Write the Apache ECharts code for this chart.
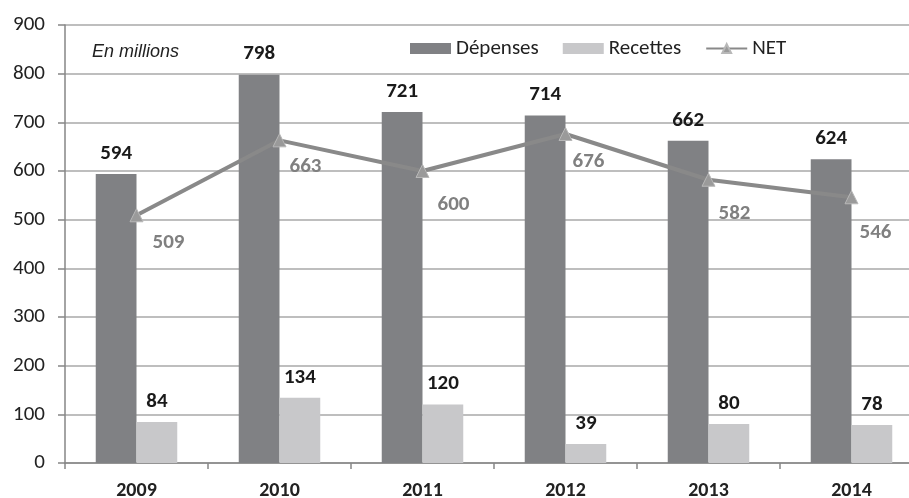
<!DOCTYPE html>
<html><head><meta charset="utf-8">
<script src="https://cdn.jsdelivr.net/npm/echarts@6/dist/echarts.min.js"></script>
<style>html,body{margin:0;padding:0;background:#fff}#c{width:909px;height:498px}</style>
</head><body><div id="c"></div>
<script>
const years = ['2009','2010','2011','2012','2013','2014'];
const depenses = [594, 798, 721, 714, 662, 624];
const recettes = [84, 134, 120, 39, 80, 78];
const net = [509, 663, 600, 676, 582, 546];
const yTicks = {min: 0, max: 900, interval: 100};
// label placement (style only) for the NET value labels
const netLabelOffsets = [[32, 27], [26, 26], [31, 34], [23, 28], [26, 34], [24, 35]];

const FONT = 'Carlito, Lato, "Open Sans", sans-serif';
const chart = echarts.init(document.getElementById('c'));
chart.setOption({
  animation: false,
  backgroundColor: '#fff',
  textStyle: {fontFamily: FONT},
  grid: {left: 65, right: -14, top: 25, bottom: 35, containLabel: false, outerBoundsMode: 'none'},
  legend: {
    left: 405, top: 33, itemWidth: 41, itemHeight: 11, itemGap: 24,
    textStyle: {fontSize: 21, color: '#222', fontFamily: FONT},
    data: [
      {name: 'Dépenses', icon: 'rect'},
      {name: 'Recettes', icon: 'rect'},
      {name: 'NET'}
    ]
  },
  graphic: [{
    type: 'text', left: 92, top: 43,
    style: {text: 'En millions', font: 'italic 18px "Liberation Sans", Arial, sans-serif', fill: '#222'}
  }],
  xAxis: {
    type: 'category', data: years,
    axisLine: {lineStyle: {color: '#868686', width: 1.5}},
    axisTick: {show: true, length: 6, lineStyle: {color: '#868686', width: 1.5}},
    axisLabel: {fontSize: 20, fontWeight: 'bold', color: '#222', margin: 18, fontFamily: FONT}
  },
  yAxis: {
    type: 'value', min: yTicks.min, max: yTicks.max, interval: yTicks.interval,
    axisLine: {show: true, lineStyle: {color: '#868686', width: 1.5}},
    axisTick: {show: true, length: 7, lineStyle: {color: '#868686', width: 1.5}},
    splitLine: {lineStyle: {color: '#a8a8a8', width: 1.5}},
    axisLabel: {fontSize: 21, color: '#222', margin: 20, fontFamily: FONT}
  },
  series: [
    {
      name: 'Dépenses', type: 'bar', data: depenses, barGap: '0%', barCategoryGap: '43%',
      itemStyle: {color: '#808184'},
      label: {show: true, position: 'top', distance: 5, offset: [0, -5], fontSize: 21, fontWeight: 'bold', color: '#1a1a1a', fontFamily: FONT}
    },
    {
      name: 'Recettes', type: 'bar', data: recettes,
      itemStyle: {color: '#c8c8ca'},
      label: {show: true, position: 'top', distance: 5, offset: [0, -5], fontSize: 21, fontWeight: 'bold', color: '#1a1a1a', fontFamily: FONT}
    },
    {
      name: 'NET', type: 'line', z: 5,
      data: net.map((v, i) => ({value: v, label: {offset: netLabelOffsets[i]}})),
      lineStyle: {color: '#898989', width: 4},
      itemStyle: {color: '#9a9a9a', borderColor: '#b8b8b8', borderWidth: 1},
      symbol: 'triangle', symbolSize: 13,
      label: {show: true, position: 'inside', fontSize: 21, fontWeight: 'bold', color: '#808080', fontFamily: FONT}
    }
  ]
});
</script></body></html>
